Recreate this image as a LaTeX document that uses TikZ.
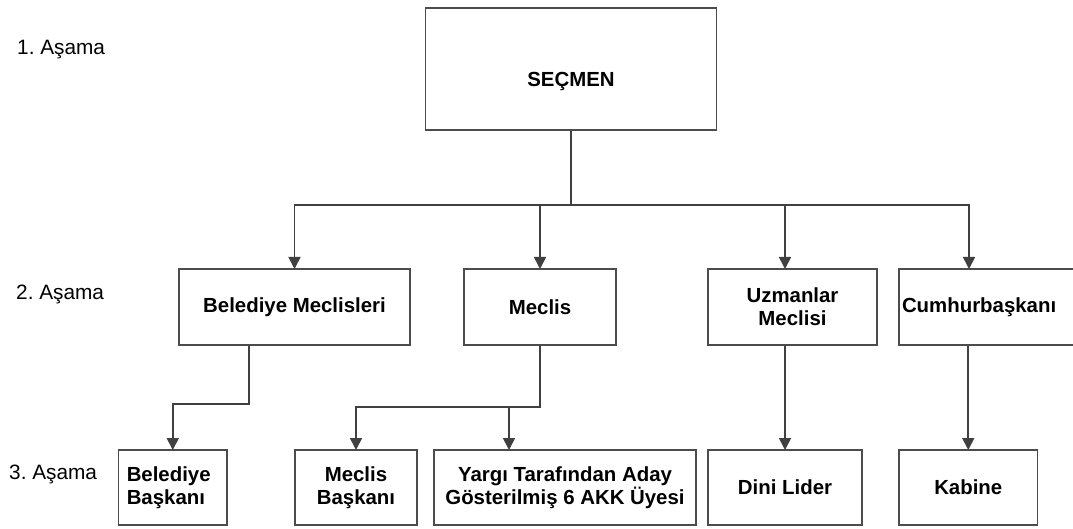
\documentclass[tikz,border=0pt]{standalone}
\usepackage{fontspec}
\setmainfont{Liberation Sans}
\usetikzlibrary{arrows.meta}
\frenchspacing
\begin{document}
\begin{tikzpicture}[x=1pt,y=-1pt,
  line/.style={draw=black!75,line width=1.7pt},
  arr/.style={line,-{Triangle[length=12pt,width=12pt]},shorten >=-0.8pt},
  box/.style={draw=black!70,line width=1.6pt,fill=white,inner sep=0pt,anchor=center,align=center,
    font=\fontsize{20.4}{23.4}\selectfont\bfseries},
  lab/.style={anchor=west,inner sep=0pt,font=\fontsize{20.8}{24}\selectfont}]
\useasboundingbox (0,0) rectangle (1073,529);
\fill[white] (0,0) rectangle (1073,529);
\clip (0,0) rectangle (1073,529);
% stage labels
\node[lab] (s1) at (17,50) {1. Aşama};
\node[lab] (s2) at (16,294) {2. Aşama};
\node[lab] (s3) at (9,474) {3. Aşama};
% level 1
\node[box,minimum width=291pt,minimum height=122pt,text height=35pt,text depth=0pt] (sec) at (571,69) {SEÇMEN};
% level 2
\node[box,minimum width=231pt,minimum height=76pt] (bm) at (294.5,307) {Belediye Meclisleri};
\node[box,minimum width=152pt,minimum height=76pt] (mec) at (540,307) {Meclis};
\node[box,minimum width=169pt,minimum height=76pt] (uzm) at (792.5,307) {Uzmanlar\\Meclisi};
\node[box,minimum width=181pt,minimum height=76pt,text width=175pt,align=left] (cum) at (989.5,307) {Cumhurbaşkanı};
% level 3
\node[box,minimum width=108.5pt,minimum height=75pt,text width=92pt,align=left] (bb) at (172.75,487.5) {Belediye\\Başkanı};
\node[box,minimum width=122pt,minimum height=75pt] (mb) at (356,487.5) {Meclis\\Başkanı};
\node[box,minimum width=262pt,minimum height=75pt] (yar) at (565,487.5) {Yargı Tarafından Aday\\Gösterilmiş 6 AKK Üyesi};
\node[box,minimum width=154pt,minimum height=75pt] (dini) at (785,487.5) {Dini Lider};
\node[box,minimum width=138.5pt,minimum height=75pt] (kab) at (968.25,487.5) {Kabine};
% connectors level 1 -> 2
\coordinate (bus) at (571,205);
\draw[line] (sec.south) -- (bus);
\draw[arr] (bus) -| (bm.north);
\draw[arr] (bus) -| (mec.north);
\draw[arr] (bus) -| ([xshift=-7.5pt]uzm.north);
\draw[arr] (bus) -| ([xshift=-20.5pt]cum.north);
% connectors level 2 -> 3
\draw[arr] ([xshift=-45.5pt]bm.south) -- ++(0,58) -| (bb.north);
\draw[arr] (mec.south) -- ++(0,61) -| (mb.north);
\coordinate (mj) at (509,406);
\draw[arr] (mj) -- (mj |- yar.north);
\draw[arr] (dini.north |- uzm.south) -- (dini.north);
\draw[arr] (kab.north |- cum.south) -- (kab.north);
\end{tikzpicture}
\end{document}
